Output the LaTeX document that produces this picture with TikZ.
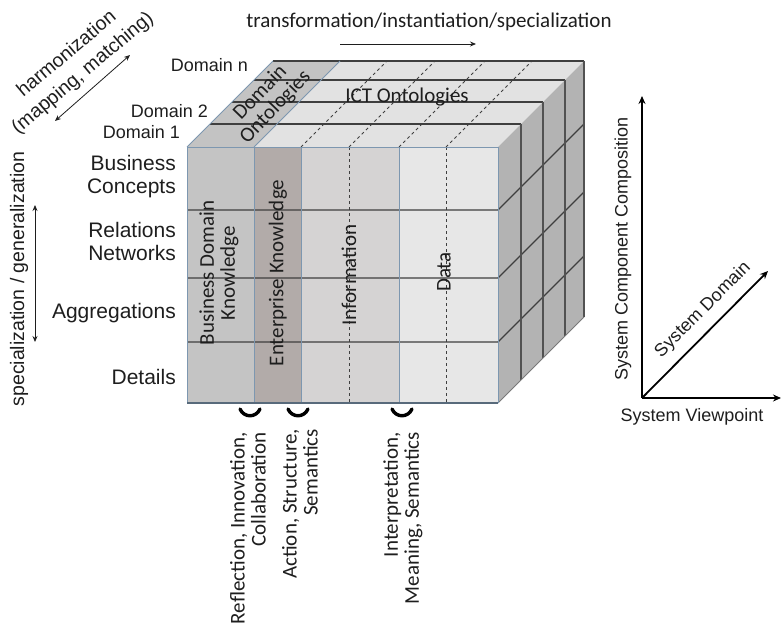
\documentclass[tikz,border=0pt]{standalone}
\usepackage{fontspec}
\setmainfont{Carlito}
\newfontfamily\arialfont{Liberation Sans}
\usetikzlibrary{arrows.meta}
\definecolor{colA}{HTML}{C4C4C4}
\definecolor{colB}{HTML}{B2ABA9}
\definecolor{colC}{HTML}{D5D3D3}
\definecolor{colD}{HTML}{E7E7E7}
\definecolor{topLight}{HTML}{E2E2E2}
\definecolor{topDark}{HTML}{C3C3C3}
\definecolor{sideGray}{HTML}{B3B3B3}
\definecolor{frameBlue}{HTML}{7D97B0}
\definecolor{rowGray}{HTML}{3F3F3F}
\definecolor{inkGray}{HTML}{1E1E1E}
\begin{document}
\begin{tikzpicture}[x=1pt,y=-1pt,
  edgeblue/.style={draw=frameBlue, line width=0.9pt},
  rowline/.style={draw=rowGray, line width=1.1pt},
  sideline/.style={draw=rowGray!90, line width=1.4pt},
  dashline/.style={draw=rowGray, line width=0.8pt, dash pattern=on 3pt off 3pt},
  calib/.style={font=\fontsize{21}{21}\selectfont, text=inkGray, inner sep=0pt},
  arial/.style={font=\arialfont\fontsize{21}{23}\selectfont, text=inkGray, inner sep=0pt},
  domlabel/.style={font=\arialfont\fontsize{18}{20}\selectfont, text=inkGray, inner sep=0pt, anchor=east},
  syslabel/.style={font=\arialfont\fontsize{18}{20}\selectfont, text=inkGray, inner sep=0pt},
  thinarrow/.style={draw=inkGray, line width=0.8pt, {Stealth[length=6pt,width=5pt]}-{Stealth[length=6pt,width=5pt]}},
  axis/.style={draw=black, line width=1.8pt, -{Stealth[length=8pt,width=7pt]}},
  bracemark/.style={draw=black, line width=3.4pt, line cap=round}
]
\useasboundingbox (0,0) rectangle (781,623);

% ---------- cube faces ----------
\fill[colA] (187,147) rectangle (254,403);
\fill[colB] (254,147) rectangle (301,403);
\fill[colC] (301,147) rectangle (399,403);
\fill[colD] (399,147) rectangle (498,403);
\fill[topLight] (187,147) -- (273,61) -- (584,61) -- (498,147) -- cycle;
\fill[topDark] (187,147) -- (273,61) -- (340,61) -- (254,147) -- cycle;
\fill[sideGray] (498,147) -- (584,61) -- (584,317) -- (498,403) -- cycle;

% dashed sub-columns on front and top
\foreach \x in {349,446} \draw[dashline] (\x,147) -- (\x,403);
\foreach \x in {301,349,399,446} \draw[dashline] (\x,147) -- (\x+86,61);

% slice lines on the top face
\foreach \d in {23,45,67} \draw[rowline] (187+\d,147-\d) -- (498+\d,147-\d);
\draw[rowline] (273,61) -- (584,61);

% rows across front and side
\foreach \y in {210,278,342} \draw[rowline] (187,\y) -- (498,\y) -- (584,\y-86);

% slice lines on the side face
\foreach \d in {23,45,67} \draw[sideline] (498+\d,147-\d) -- (498+\d,403-\d);
\draw[sideline] (584,61) -- (584,317);
\draw[draw=rowGray!70, line width=0.8pt] (498,403) -- (584,317);

% column frames
\foreach \x in {187,254,301,399,498} \draw[edgeblue] (\x,147) -- (\x,403);
\draw[edgeblue] (187,147) -- (498,147);
\draw[edgeblue] (187,147) -- (273,61);
\draw[edgeblue] (254,147) -- (340,61);
\draw[draw=frameBlue!70!black, line width=1.2pt] (187,403) -- (498,403);

% ---------- texts on the cube ----------
\node[calib, rotate=90, align=center] (bdk) at (219,273) {Business Domain\\Knowledge};
\node[calib, rotate=90] (ek) at (278,273) {Enterprise Knowledge};
\node[calib, rotate=90] (info) at (349,275) {Information};
\node[calib, rotate=90] (data) at (444,272) {Data};
\node[calib] (ict) at (407,97) {ICT Ontologies};
\node[calib, rotate=46, align=center] (domonto) at (268,100) {Domain\\Ontologies};

% ---------- domain labels ----------
\node[domlabel] (dn) at (248,65) {Domain n};
\node[domlabel] (d2) at (208,111) {Domain 2};
\node[domlabel] (d1) at (180,132) {Domain 1};

% ---------- row labels ----------
\node[arial, align=right, anchor=east] (bc) at (176,177) {Business\\Concepts};
\node[arial, align=right, anchor=east] (rn) at (176,241) {Relations\\Networks};
\node[arial, anchor=east] (agg) at (176,313) {Aggregations};
\node[arial, anchor=east] (det) at (176,377) {Details};

% ---------- specialization arrow ----------
\coordinate (sgTop) at (35,205);
\coordinate (sgBot) at (35,342);
\draw[thinarrow] (sgTop) -- (sgBot);
\node[arial, rotate=90, font=\arialfont\fontsize{19.5}{22}\selectfont] (sg) at (19,279) {specialization / generalization};

% ---------- harmonization arrow ----------
\coordinate (hA) at (55,121);
\coordinate (hB) at (130,55);
\draw[thinarrow] (hA) -- (hB);
\node[arial, rotate=40, align=center, font=\arialfont\fontsize{19.5}{25}\selectfont] (harm) at (75,64) {harmonization\\(mapping, matching)};

% ---------- transformation arrow ----------
\node[calib] (trans) at (429,22) {transformation/instantiation/specialization};
\coordinate (tA) at (340,44);
\coordinate (tB) at (476,44);
\draw[draw=inkGray, line width=0.8pt, -{Stealth[length=6pt,width=5pt]}] (tA) -- (tB);

% ---------- bottom braces and labels ----------
\foreach \bx in {250,298,402}{
  \draw[bracemark] (\bx-10,409) .. controls (\bx-6,418) and (\bx+6,418) .. (\bx+10,409);
}
\node[calib, rotate=90, align=right, anchor=east] (refl) at (248,432) {Reflection, Innovation,\\Collaboration};
\node[calib, rotate=90, align=right, anchor=east] (act) at (300,429) {Action, Structure,\\Semantics};
\node[calib, rotate=90, align=right, anchor=east] (interp) at (403,432) {Interpretation,\\Meaning, Semantics};

% ---------- system axes ----------
\coordinate (orig) at (642,398);
\coordinate (axUp) at (642,96);
\coordinate (axRight) at (781,398);
\coordinate (axDiag) at (768,271);
\draw[axis] (orig) -- (axUp);
\draw[axis] (orig) -- (axRight);
\draw[axis] (orig) -- (axDiag);
\node[syslabel] (sv) at (692,417) {System Viewpoint};
\node[syslabel, rotate=90] (scc) at (623,249) {System Component Composition};
\node[syslabel, rotate=45] (sd) at (703,310) {System Domain};
\end{tikzpicture}
\end{document}
